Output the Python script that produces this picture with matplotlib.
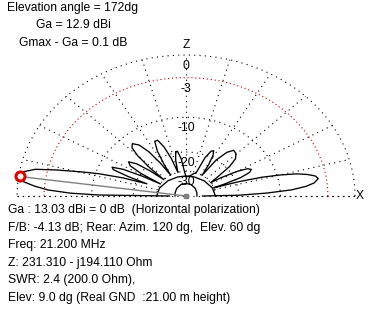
import numpy as np
import matplotlib
matplotlib.use("Agg")
import matplotlib.pyplot as plt

# ---------------- data ----------------
elev_angles = [0, 1, 2.5, 4, 5.5, 7, 9, 10.5, 12, 13.5, 15, 16.5, 18, 19.5,
               20.5, 22, 24, 26, 28, 30, 32, 33,
               36, 39, 42, 45.5, 49, 52, 55, 57,
               59, 61, 63, 65, 67.5, 70,
               74, 80, 86, 90,
               93, 96, 99, 101, 103.5, 106,
               108, 110.5, 113, 115.5, 118, 120, 121.5,
               123, 125, 127.5, 130.5, 133, 135, 137, 138.5,
               140, 142, 144.5, 147, 149, 150.5,
               151.5, 153, 155, 156.5, 158, 159.5,
               161, 163, 164.5, 166.5, 168, 170, 172, 174, 175.5, 177, 178.3, 179.2, 180]
gain_db = [-40, -20, -12.6, -8, -5.8, -4.6, -4.0, -4.3, -5.3, -6.8, -9.5, -13, -19, -30,
           -24, -18, -15.2, -14.5, -15.2, -18, -24, -30,
           -25, -19, -16, -14.8, -14.5, -16, -20, -30,
           -23, -19, -17.5, -18, -21, -30,
           -31, -33, -34, -34,
           -30, -23, -19.5, -19.5, -23, -30,
           -22, -17, -14.5, -14.5, -17.5, -23, -30,
           -22, -16.5, -13.5, -12.3, -13, -15.5, -21, -30,
           -22, -17, -15, -16, -20, -30,
           -21, -15, -12.5, -13, -17, -24,
           -16, -10.5, -7.7, -4, -1.6, -0.3, 0, -0.6, -1.8, -3.45, -6.5, -11.2, -40]

# low-level traces drawn around the centre
inner_angles = [0, 20, 45, 70, 90, 110, 135, 160, 180]
inner_outer_db = [-30, -30.8, -32.3, -33.3, -33.5, -33.3, -32.3, -30.8, -30]
inner_inner_db = [-47, -46, -44, -42, -41.5, -42, -44, -46, -47]

ring_db = [0, -3, -10, -20, -30]
ring_labels = ["0", "-3", "-10", "-20", "-30"]
spoke_angles = list(range(0, 181, 15))

max_angle = 172
max_rel_db = -0.1

title_lines = ["Elevation angle = 172dg", "Ga = 12.9 dBi", "Gmax - Ga = 0.1 dB"]
info_lines = ["Ga : 13.03 dBi = 0 dB  (Horizontal polarization)",
              "F/B: -4.13 dB; Rear: Azim. 120 dg,  Elev. 60 dg",
              "Freq: 21.200 MHz",
              "Z: 231.310 - j194.110 Ohm",
              "SWR: 2.4 (200.0 Ohm),",
              "Elev: 9.0 dg (Real GND  :21.00 m height)"]

# ---------------- helpers ----------------
def radius(db):
    return 0.89 ** (-np.asarray(db, dtype=float) / 2.0)

W, H = 369, 310
CX, CY = 186, 196
RX, RY = 169, 141

fig = plt.figure(figsize=(W / 100, H / 100), dpi=100)
fig.patch.set_facecolor("white")
ax = fig.add_axes([0, 0, 1, 1])
ax.set_xlim(-CX / RX, (W - CX) / RX)
ax.set_ylim(-(H - CY) / RY, CY / RY)
ax.axis("off")

FONT = "Liberation Sans"
FS = 8.7
dot = (0, (1, 3.8))

# rings
t = np.linspace(0, np.pi, 400)
for db in ring_db:
    r = radius(db)
    col = "#cc0000" if db == -3 else "black"
    ls = (0, (1, 2.5)) if db == -3 else dot
    ax.plot(r * np.cos(t), r * np.sin(t), color=col, lw=0.8, ls=ls)

# spokes
r_in = radius(-30)
for a in spoke_angles:
    th = np.radians(a)
    ax.plot([r_in * np.cos(th), np.cos(th)], [r_in * np.sin(th), np.sin(th)],
            color="black", lw=0.8, ls=dot)
# baseline
ax.plot([-1, 1], [0, 0], color="black", lw=0.8, ls=dot)

# ring labels
for db, lab in zip(ring_db, ring_labels):
    ax.text(0, radius(db) - 11 / RY, lab, ha="center", va="center",
            fontsize=FS, family=FONT, color="black")
ax.text(0, 1 + 10 / RY, "Z", ha="center", va="center", fontsize=FS, family=FONT)
ax.text(1 + 5 / RX, 0, "X", ha="center", va="center", fontsize=FS, family=FONT)

# pattern
th = np.radians(elev_angles)
r = radius(gain_db)
ax.plot(r * np.cos(th), r * np.sin(th), color="black", lw=0.95, solid_joinstyle="round")

# inner traces
ti = np.radians(inner_angles)
for g in (inner_outer_db, inner_inner_db):
    ri = radius(g)
    ax.plot(ri * np.cos(ti), ri * np.sin(ti), color="black", lw=0.95)

# maximum marker
mth = np.radians(max_angle)
mr = radius(max_rel_db)
ax.plot([0, mr * np.cos(mth)], [0, mr * np.sin(mth)], color="#808080", lw=1.0)
ax.plot([0], [0], marker="s", ms=3.5, color="#808080", mec="#808080")
ax.plot([mr * np.cos(mth)], [mr * np.sin(mth)], marker="o", ms=6.5, mfc="white",
        mec="#e00000", mew=2.2)

# texts
for i, s in enumerate(title_lines):
    fig.text(73 / W, 1 - (8 + 17.5 * i) / H, s, ha="center", va="center",
             fontsize=FS, family=FONT)
for i, s in enumerate(info_lines):
    fig.text(8 / W, 1 - (210 + 17.6 * i) / H, s, ha="left", va="center",
             fontsize=FS, family=FONT)

fig.savefig("out.png", dpi=100, facecolor="white")
